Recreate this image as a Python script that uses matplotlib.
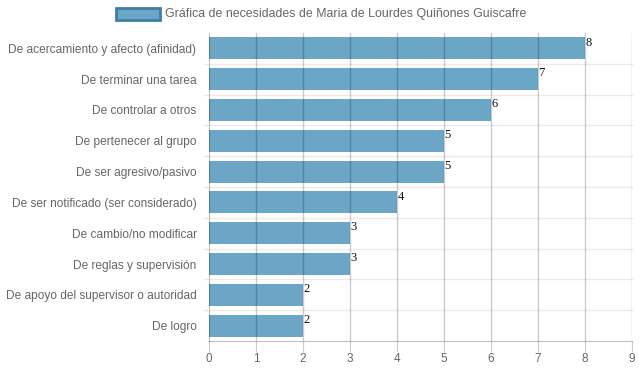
import numpy as np
import matplotlib.pyplot as plt
from matplotlib.patches import Rectangle

# Data
labels = [
	"De acercamiento y afecto (afinidad)",
	"De terminar una tarea",
	"De controlar a otros",
	"De pertenecer al grupo",
	"De ser agresivo/pasivo",
	"De ser notificado (ser considerado)",
	"De cambio/no modificar",
	"De reglas y supervisión",
	"De apoyo del supervisor o autoridad",
	"De logro",
]
values = [8, 7, 6, 5, 5, 4, 3, 3, 2, 2]
xticks = list(range(0, 10))
legend_label = "Gráfica de necesidades de Maria de Lourdes Quiñones Guiscafre"

bar_color = "#6ba6c6"
text_color = "#666666"

plt.rcParams["font.family"] = ["Liberation Sans", "DejaVu Sans"]

fig = plt.figure(figsize=(6.39, 3.72), dpi=100)
ax = fig.add_axes([209 / 639, 1 - 341 / 372, (632 - 209) / 639, (341 - 33) / 372])

y = np.arange(len(labels))
ax.barh(y, values, height=0.72, color=bar_color, zorder=1)

# Value labels at bar ends
for yi, v in zip(y, values):
	ax.text(v + 0.01, yi - 0.38, str(v), ha="left", va="top",
		fontsize=9, family="Liberation Serif", color="#111111", zorder=4)

# Grid
ax.set_xlim(0, 9)
ax.set_ylim(len(labels) - 0.5, -0.5)
for xv in xticks[1:]:
	ax.axvline(xv, color=(0, 0, 0, 0.2), lw=1, zorder=3)
for b in np.arange(-0.5, len(labels), 1.0)[1:-1]:
	ax.plot([-0.1, 9], [b, b], color="#ebebeb", lw=1, zorder=0, clip_on=False)

ax.set_yticks(y)
ax.set_yticklabels(labels, fontsize=8.55, color=text_color)
ax.set_xticks(xticks)
ax.set_xticklabels([str(t) for t in xticks], fontsize=8.5, color=text_color)
ax.tick_params(axis="y", length=0, pad=9)
ax.tick_params(axis="x", length=8, color=(0, 0, 0, 0.2), pad=1)

for s in ["top", "right"]:
	ax.spines[s].set_visible(False)
ax.spines["left"].set_color((0, 0, 0, 0.25))
ax.spines["bottom"].set_color((0, 0, 0, 0.25))

# Legend
fig.patches.append(Rectangle((116 / 639, 1 - 20 / 372), 44 / 639, 12 / 372,
	transform=fig.transFigure, facecolor=bar_color, edgecolor="#3c7fa6", lw=2))
fig.text(165 / 639, 1 - 14 / 372, legend_label, ha="left", va="center",
	fontsize=8.9, color=text_color)

fig.savefig("out.png", dpi=100)
